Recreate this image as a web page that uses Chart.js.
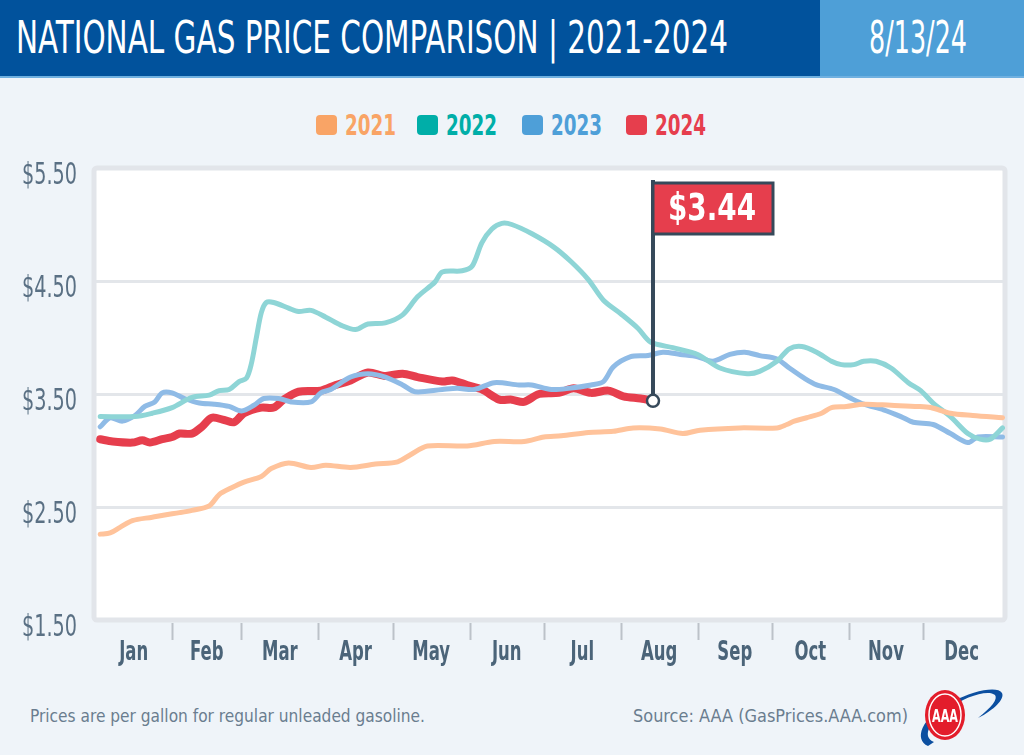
<!DOCTYPE html>
<html lang="en">
<head>
  <meta charset="UTF-8" />
  <title>National Gas Price Comparison</title>
  <script src="https://cdn.jsdelivr.net/npm/chart.js"></script>
  <style>
    body { margin:0; width:1024px; height:755px; background:#eff4f9; position:relative; overflow:hidden;
           font-family:'DejaVu Sans Condensed',sans-serif; }
    .header { position:absolute; left:0; top:0; width:1024px; height:76px; background:#01529c; border-bottom:2px solid #6fb0e0; }
    .header .date { position:absolute; left:820px; top:0; width:204px; height:76px; background:#4e9fd7; }
    .fit { position:absolute; color:#fff; white-space:nowrap; transform-origin:0 0; line-height:1; }
    #title { left:16px; top:15px; font-size:45px; }
    #date { left:869px; top:15px; font-size:45px; }
    .legend { position:absolute; top:110px; left:0; width:1024px; height:30px; }
    .legend span { position:absolute; top:0; font-size:29px; line-height:30px; font-weight:bold; white-space:nowrap; transform-origin:0 0; }
    .legend i { position:absolute; top:5px; width:21px; height:20px; border-radius:4px; }
    #chartBox { position:absolute; left:0; top:80px; width:1024px; height:620px; }
    .foot { position:absolute; top:705px; font-size:18px; color:#6a7d8f; white-space:nowrap; transform-origin:0 0; }
  </style>
</head>
<body>
  <div class="header"><div class="date"></div></div>
  <div class="fit" id="title" data-w="712">NATIONAL GAS PRICE COMPARISON | 2021-2024</div>
  <div class="fit" id="date" data-w="98">8/13/24</div>

  <div class="legend" id="legend"></div>

  <div id="chartBox"><canvas id="gasChart" width="1024" height="620"></canvas></div>

  <div class="foot" data-w="395" style="left:30px">Prices are per gallon for regular unleaded gasoline.</div>
  <div class="foot" data-w="275" style="left:633px">Source: AAA (GasPrices.AAA.com)</div>

  <svg style="position:absolute;left:912px;top:684px" width="94" height="66" viewBox="0 0 94 66">
    <path d="M16 62 C2 56 8 34 40 18 C62 6 86 2 90 9 C93 15 82 26 66 34 C80 23 86 15 83 11 C76 5 52 13 36 25 C16 39 10 53 22 58 Z" fill="#0c4fa0"/>
    <ellipse cx="33" cy="31" rx="20" ry="25" fill="#e31d2b"/>
    <ellipse cx="33" cy="31" rx="16" ry="21" fill="none" stroke="#fff" stroke-width="1.5"/>
    <text x="33" y="38" text-anchor="middle" font-family="DejaVu Sans Condensed, sans-serif" font-weight="bold" font-size="17" textLength="26" lengthAdjust="spacingAndGlyphs" fill="#fff">AAA</text>
  </svg>

  <script>
    // day of year (Jan 1 = 0) and price readings per year
    const monthNames = ['Jan','Feb','Mar','Apr','May','Jun','Jul','Aug','Sep','Oct','Nov','Dec'];
    const monthStarts = [0,31,59,90,120,151,181,212,243,273,304,334,365];
    const yTicks = [1.5, 2.5, 3.5, 4.5, 5.5];

    const days2021 = [2,6,10,15,23,28,34,39,46,50,55,60,67,71,78,87,93,103,113,122,127,134,150,161,173,181,188,199,209,217,228,237,244,260,275,279,282,287,293,297,303,310,321,332,337,345,354,366];
    const price2021 = [2.26,2.27,2.32,2.38,2.41,2.43,2.45,2.47,2.51,2.61,2.67,2.72,2.77,2.84,2.89,2.85,2.87,2.85,2.88,2.90,2.96,3.04,3.04,3.08,3.08,3.12,3.13,3.16,3.17,3.20,3.19,3.15,3.18,3.20,3.20,3.23,3.26,3.29,3.33,3.38,3.39,3.41,3.40,3.39,3.38,3.33,3.31,3.29];

    const days2022 = [2,16,23,31,39,46,50,54,58,61,63,65,67,69,72,78,82,87,93,99,105,110,117,124,130,137,140,148,152,156,160,164,168,176,185,192,199,205,212,219,224,233,243,252,263,268,275,280,285,291,297,301,306,310,315,321,328,333,338,345,352,357,361,366];
    const price2022 = [3.30,3.30,3.33,3.38,3.47,3.49,3.53,3.54,3.61,3.64,3.77,4.00,4.22,4.31,4.31,4.26,4.23,4.24,4.18,4.11,4.07,4.12,4.13,4.20,4.36,4.49,4.58,4.59,4.63,4.84,4.96,5.01,5.00,4.92,4.80,4.67,4.51,4.33,4.21,4.08,3.96,3.91,3.85,3.73,3.68,3.70,3.79,3.90,3.92,3.87,3.79,3.76,3.76,3.79,3.79,3.73,3.60,3.53,3.42,3.30,3.15,3.10,3.10,3.20];

    const days2023 = [2,6,11,16,20,24,27,31,36,42,48,54,59,64,68,74,79,87,91,95,103,110,117,124,129,140,146,153,161,171,176,184,191,200,205,209,216,223,229,236,243,249,256,262,268,275,280,286,291,298,305,310,318,325,330,338,345,352,356,366];
    const price2023 = [3.21,3.29,3.26,3.31,3.39,3.43,3.51,3.51,3.46,3.42,3.41,3.39,3.35,3.40,3.46,3.46,3.43,3.43,3.51,3.54,3.65,3.68,3.65,3.58,3.52,3.54,3.55,3.54,3.60,3.58,3.58,3.54,3.55,3.58,3.61,3.74,3.83,3.84,3.87,3.85,3.83,3.79,3.85,3.87,3.84,3.81,3.73,3.64,3.58,3.54,3.46,3.41,3.36,3.30,3.25,3.23,3.15,3.07,3.12,3.12];

    const days2024 = [2,7,15,19,22,27,31,34,39,43,47,52,56,60,67,72,76,82,91,97,103,110,117,124,130,140,144,150,156,163,168,173,179,187,193,200,207,213,220,225];
    const price2024 = [3.10,3.08,3.07,3.09,3.07,3.10,3.12,3.15,3.15,3.21,3.29,3.27,3.25,3.33,3.38,3.38,3.45,3.52,3.53,3.58,3.62,3.69,3.66,3.68,3.65,3.61,3.62,3.58,3.54,3.45,3.45,3.43,3.50,3.51,3.55,3.51,3.53,3.48,3.46,3.44];

    const series = [
      { label:'2021', days:days2021, prices:price2021, line:'#ffc39b', key:'#f9a466', width:5 },
      { label:'2022', days:days2022, prices:price2022, line:'#8ed5d6', key:'#00aea8', width:5 },
      { label:'2023', days:days2023, prices:price2023, line:'#8fbbe6', key:'#4e9fd8', width:5 },
      { label:'2024', days:days2024, prices:price2024, line:'#e63e4d', key:'#e63e4d', width:8 }
    ];

    const FONT = "'DejaVu Sans Condensed',sans-serif";

    // html legend
    const legendPos = [316, 417, 522, 626];
    document.getElementById('legend').innerHTML = series.map((s, i) =>
      `<i style="left:${legendPos[i]}px;background:${s.key}"></i>` +
      `<span data-w="51" style="left:${legendPos[i] + 29}px;color:${s.key}">${s.label}</span>`
    ).join('');

    // squeeze the condensed texts to the widths in the picture
    document.querySelectorAll('[data-w]').forEach(el => {
      const w = el.getBoundingClientRect().width;
      el.style.transform = `scaleX(${el.dataset.w / w})`;
    });

    // draw text horizontally squeezed by factor sx
    function squeezed(ctx, text, x, y, sx, align) {
      const w = ctx.measureText(text).width * sx;
      let left = x;
      if (align === 'right') left = x - w;
      if (align === 'center') left = x - w / 2;
      ctx.save();
      ctx.translate(left, y);
      ctx.scale(sx, 1);
      ctx.textAlign = 'left';
      ctx.fillText(text, 0, 0);
      ctx.restore();
    }

    const framePlugin = {
      id: 'frame',
      beforeDraw(chart) {
        const { ctx, chartArea: a } = chart;
        ctx.save();
        ctx.fillStyle = '#ffffff';
        ctx.fillRect(a.left, a.top, a.right - a.left, a.bottom - a.top);
        ctx.restore();
      },
      beforeDatasetsDraw(chart) {
        const { ctx, chartArea: a, scales } = chart;
        ctx.save();
        ctx.strokeStyle = '#e2e5ea';
        ctx.lineWidth = 5;
        ctx.beginPath();
        ctx.roundRect(a.left, a.top, a.right - a.left, a.bottom - a.top, 3);
        ctx.stroke();
        // month boundary tick marks below the frame
        ctx.strokeStyle = '#bcc2c9';
        ctx.lineWidth = 2;
        monthStarts.slice(1, -1).forEach(d => {
          const x = Math.round(scales.x.getPixelForValue(d)) + 0.5;
          ctx.beginPath();
          ctx.moveTo(x, a.bottom + 3);
          ctx.lineTo(x, a.bottom + 20);
          ctx.stroke();
        });
        // axis labels, condensed like the original
        ctx.textBaseline = 'middle';
        ctx.fillStyle = '#5a7084';
        ctx.font = `31px ${FONT}`;
        const sy = 55 / ctx.measureText('$5.50').width;
        scales.y.ticks.forEach(t => {
          squeezed(ctx, '$' + t.value.toFixed(2), 77, scales.y.getPixelForValue(t.value) + 8, sy, 'right');
        });
        ctx.fillStyle = '#4b6479';
        ctx.font = `bold 26px ${FONT}`;
        const sxl = 29 / ctx.measureText('Jan').width;
        scales.x.ticks.forEach((t, i) => {
          squeezed(ctx, monthNames[i], scales.x.getPixelForValue(t.value), a.bottom + 33, sxl, 'center');
        });
        ctx.restore();
      },
      afterDatasetsDraw(chart) {
        const { ctx, scales } = chart;
        const last = days2024.length - 1;
        const px = scales.x.getPixelForValue(days2024[last]);
        const py = scales.y.getPixelForValue(price2024[last]);
        const top = 100;
        ctx.save();
        ctx.strokeStyle = '#36495a';
        ctx.lineWidth = 4;
        ctx.beginPath();
        ctx.moveTo(px, top);
        ctx.lineTo(px, py);
        ctx.stroke();
        // flag
        ctx.fillStyle = '#e63e4d';
        ctx.fillRect(px, top + 3, 120, 51);
        ctx.lineWidth = 3;
        ctx.strokeRect(px, top + 3, 120, 51);
        ctx.fillStyle = '#ffffff';
        ctx.font = `bold 37px ${FONT}`;
        ctx.textBaseline = 'middle';
        const label = '$' + price2024[last].toFixed(2);
        squeezed(ctx, label, px + 59, top + 30, 88 / ctx.measureText(label).width, 'center');
        // end marker
        ctx.beginPath();
        ctx.arc(px, py, 6, 0, Math.PI * 2);
        ctx.fillStyle = '#ffffff';
        ctx.fill();
        ctx.lineWidth = 2.5;
        ctx.stroke();
        ctx.restore();
      }
    };

    new Chart(document.getElementById('gasChart'), {
      type: 'line',
      data: {
        datasets: series.map(s => ({
          label: s.label,
          data: s.days.map((d, i) => ({ x: d, y: s.prices[i] })),
          borderColor: s.line,
          borderWidth: s.width,
          pointRadius: 0,
          tension: 0.3,
          borderCapStyle: 'round',
          borderJoinStyle: 'round'
        }))
      },
      options: {
        responsive: false,
        animation: false,
        layout: { padding: { top: 88, right: 19, left: 0, bottom: 0 } },
        plugins: { legend: { display: false }, tooltip: { enabled: false } },
        scales: {
          x: {
            type: 'linear',
            min: -0.5,
            max: 367,
            afterBuildTicks: scale => {
              scale.ticks = monthNames.map((m, i) => ({ value: (monthStarts[i] + monthStarts[i + 1]) / 2 }));
            },
            afterFit: scale => { scale.height = 80; },
            grid: { display: false },
            border: { display: false },
            ticks: { display: false }
          },
          y: {
            min: 1.5,
            max: 5.5,
            afterBuildTicks: scale => { scale.ticks = yTicks.map(v => ({ value: v })); },
            afterFit: scale => { scale.width = 94; },
            grid: { color: '#e3e6ea', lineWidth: 3, drawTicks: false },
            border: { display: false },
            ticks: { display: false }
          }
        }
      },
      plugins: [framePlugin]
    });
  </script>
</body>
</html>
